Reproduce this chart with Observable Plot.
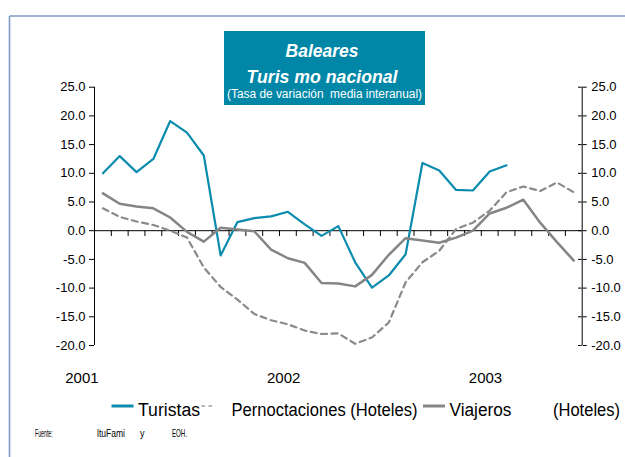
<!DOCTYPE html>
<html>
<head>
<meta charset="utf-8">
<script src="https://cdn.jsdelivr.net/npm/d3@7"></script>
<script src="https://cdn.jsdelivr.net/npm/@observablehq/plot@0.6"></script>
<style>
  html, body { margin: 0; padding: 0; background: #fff; }
  #wrap { position: relative; width: 625px; height: 457px; overflow: hidden; font-family: "Liberation Sans", Arial, sans-serif; }
  #wrap svg { position: absolute; left: 0; top: 0; }
</style>
</head>
<body>
<div id="wrap"></div>
<script>
// ---- data ----
const periods = [
  "2001-01","2001-02","2001-03","2001-04","2001-05","2001-06","2001-07","2001-08","2001-09","2001-10","2001-11","2001-12",
  "2002-01","2002-02","2002-03","2002-04","2002-05","2002-06","2002-07","2002-08","2002-09","2002-10","2002-11","2002-12",
  "2003-01","2003-02","2003-03","2003-04","2003-05"
];
const yearLabels = ["2001", "2002", "2003"];
const yTicks = [-20, -15, -10, -5, 0, 5, 10, 15, 20, 25];
const seriesNames = ["Turistas", "Pernoctaciones (Hoteles)", "Viajeros"];
const seriesColors = ["#0b8cae", "#8a8a8a", "#858585"];

const turistas = [10.0, 13.0, 10.2, 12.5, 19.1, 17.1, 13.1, -4.3, 1.5, 2.2, 2.5, 3.3, 1.1, -0.9, 0.8, -5.5, -9.9, -7.8, -4.1, 11.8, 10.5, 7.1, 7.0, 10.3, 11.4];
const pernoctaciones = [3.9, 2.4, 1.6, 1.0, 0.0, -1.2, -6.4, -9.8, -12.0, -14.5, -15.6, -16.3, -17.4, -18.0, -17.9, -19.7, -18.6, -16.0, -9.0, -5.5, -3.5, 0.3, 1.4, 3.5, 6.7, 7.7, 6.9, 8.4, 6.7];
const viajeros = [6.5, 4.7, 4.2, 3.9, 2.3, -0.2, -1.9, 0.5, 0.2, -0.1, -3.3, -4.8, -5.6, -9.1, -9.2, -9.7, -7.7, -4.2, -1.3, -1.7, -2.1, -1.2, 0.0, 3.0, 4.0, 5.4, 1.4, -2.0, -5.2];

// ---- derived tables ----
const toRows = (vals) => vals.map((v, i) => ({ i, period: periods[i], v }));
const n = periods.length;
const boundaries = periods.slice(0, -1).map((_, i) => i + 0.5);
const yearIdx = periods.map((p, i) => (p.endsWith("-01") ? i : null)).filter(d => d !== null);

const font = "Liberation Sans, Arial, sans-serif";

const chart = Plot.plot({
  width: 625,
  height: 457,
  marginLeft: 94,
  marginRight: 43.3,
  marginTop: 86.7,
  marginBottom: 112,
  x: { domain: [-0.5, n - 0.5], axis: null },
  y: { domain: [-20, 25], axis: null },
  style: { fontFamily: font, background: "transparent", color: "#000", overflow: "visible" },
  marks: [
    Plot.ruleX([-0.5, n - 0.5], { y1: -20, y2: 25, stroke: "#000", strokeWidth: 1 }),
    Plot.ruleY([0], { x1: -0.5, x2: n - 0.5, stroke: "#000", strokeWidth: 1 }),
    Plot.ruleX(boundaries, { x: d => d, y1: 0, y2: -1, stroke: "#000", strokeWidth: 1 }),
    Plot.axisY({ anchor: "left", ticks: yTicks, tickFormat: d => d.toFixed(1), tickSize: 5, tickPadding: 4, fontSize: 13, label: null }),
    Plot.axisY({ anchor: "right", ticks: yTicks, tickFormat: d => d.toFixed(1), tickSize: 4, tickPadding: 5, fontSize: 13, label: null }),
    Plot.ruleY(yTicks, { x1: n - 0.72, x2: n - 0.5, stroke: "#000", strokeWidth: 1 }),
    Plot.axisX({ ticks: yearIdx, tickFormat: i => yearLabels[yearIdx.indexOf(i)], tickSize: 0, tickPadding: 27, fontSize: 15, dx: -21, label: null }),
    Plot.line(toRows(turistas), { x: "i", y: "v", stroke: seriesColors[0], strokeWidth: 2.2, strokeLinejoin: "round" }),
    Plot.line(toRows(pernoctaciones), { x: "i", y: "v", stroke: seriesColors[1], strokeWidth: 2.2, strokeDasharray: "6,4.5" }),
    Plot.line(toRows(viajeros), { x: "i", y: "v", stroke: seriesColors[2], strokeWidth: 2.5, strokeLinejoin: "round" })
  ]
});

const wrap = document.getElementById("wrap");

// ---- decorations: frame, title box, legend, footer ----
const deco = d3.create("svg")
  .attr("width", 625).attr("height", 457)
  .attr("font-family", font);

deco.append("line").attr("x1", 9.5).attr("x2", 625).attr("y1", 16).attr("y2", 16)
  .attr("stroke", "#7f9bc8").attr("stroke-width", 1.6);
deco.append("line").attr("x1", 9.5).attr("x2", 9.5).attr("y1", 16).attr("y2", 457)
  .attr("stroke", "#7f9bc8").attr("stroke-width", 1.6);

wrap.appendChild(deco.node());
wrap.appendChild(chart);

const over = d3.create("svg")
  .attr("width", 625).attr("height", 457)
  .attr("font-family", font);

// title box
over.append("rect").attr("x", 224).attr("y", 31).attr("width", 201).attr("height", 74).attr("fill", "#0087a8");
over.append("text").attr("x", 322).attr("y", 56.5).attr("text-anchor", "middle")
  .attr("fill", "#fff").attr("font-size", 17.5).attr("font-weight", "bold").attr("font-style", "italic")
  .attr("textLength", 73).attr("lengthAdjust", "spacingAndGlyphs")
  .text("Baleares");
over.append("text").attr("x", 322).attr("y", 82.5).attr("text-anchor", "middle")
  .attr("fill", "#fff").attr("font-size", 19).attr("font-weight", "bold").attr("font-style", "italic")
  .attr("textLength", 151).attr("lengthAdjust", "spacingAndGlyphs")
  .text("Turis mo nacional");
over.append("text").attr("x", 324.5).attr("y", 98).attr("text-anchor", "middle")
  .attr("fill", "#fff").attr("font-size", 12).style("white-space", "pre")
  .attr("textLength", 195).attr("lengthAdjust", "spacingAndGlyphs")
  .text("(Tasa de variación  media interanual)");

// legend
const legY = 406, legBase = 416, legFs = 18;
over.append("line").attr("x1", 111.5).attr("x2", 133.5).attr("y1", legY).attr("y2", legY)
  .attr("stroke", seriesColors[0]).attr("stroke-width", 3);
over.append("text").attr("x", 138).attr("y", legBase).attr("font-size", legFs)
  .attr("textLength", 62).attr("lengthAdjust", "spacingAndGlyphs").text(seriesNames[0]);
over.append("line").attr("x1", 201.5).attr("x2", 212).attr("y1", legY).attr("y2", legY)
  .attr("stroke", "#a0a0a0").attr("stroke-width", 1.6).attr("stroke-dasharray", "3.5,3.5");
over.append("text").attr("x", 231.5).attr("y", legBase).attr("font-size", legFs)
  .attr("textLength", 186).attr("lengthAdjust", "spacingAndGlyphs").text(seriesNames[1]);
over.append("line").attr("x1", 423).attr("x2", 445).attr("y1", legY).attr("y2", legY)
  .attr("stroke", seriesColors[2]).attr("stroke-width", 3);
over.append("text").attr("x", 449.5).attr("y", legBase).attr("font-size", legFs)
  .attr("textLength", 62).attr("lengthAdjust", "spacingAndGlyphs").text(seriesNames[2]);
over.append("text").attr("x", 553).attr("y", legBase).attr("font-size", legFs)
  .attr("textLength", 67).attr("lengthAdjust", "spacingAndGlyphs").text("(Hoteles)");

// footer
const footBase = 437, footFs = 10.5;
[["Fuente:", 35, 17.7], ["ltuFami", 97, 28], ["y", 140, 4.5], ["EOH.", 172, 15]].forEach(([t, x, w]) => {
  over.append("text").attr("x", x).attr("y", footBase).attr("font-size", footFs)
    .attr("textLength", w).attr("lengthAdjust", "spacingAndGlyphs").text(t);
});

wrap.appendChild(over.node());
</script>
</body>
</html>
